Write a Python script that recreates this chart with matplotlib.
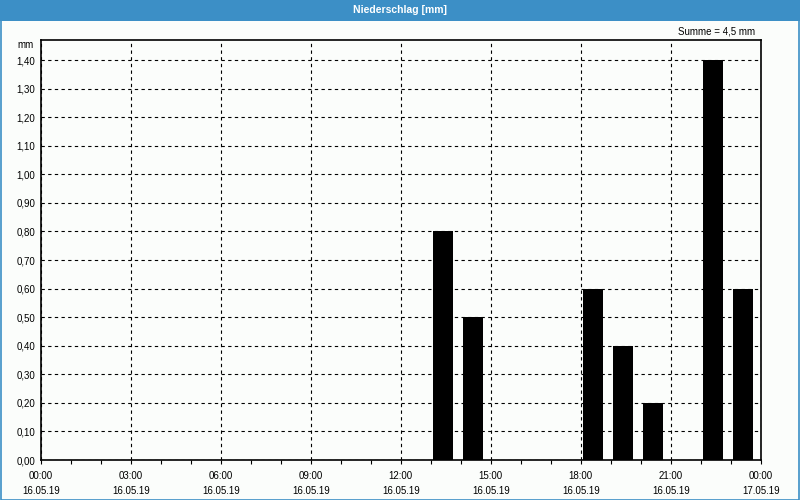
import matplotlib
matplotlib.use("Agg")
import matplotlib.pyplot as plt
from matplotlib.patches import Rectangle
from matplotlib.ticker import MultipleLocator

plt.rcParams['font.family'] = ['Liberation Sans', 'DejaVu Sans']

# hourly precipitation, 16.05.19
hours = [13, 14, 18, 19, 20, 22, 23]
values = [0.8, 0.5, 0.6, 0.4, 0.2, 1.4, 0.6]

tick_hours = [0, 3, 6, 9, 12, 15, 18, 21, 24]
tick_times = ["00:00", "03:00", "06:00", "09:00", "12:00", "15:00", "18:00", "21:00", "00:00"]
tick_dates = ["16.05.19"] * 8 + ["17.05.19"]
y_ticks = [i / 10 for i in range(15)]

blue = '#3c8fc6'

fig = plt.figure(figsize=(8, 5), dpi=100, facecolor='#fbfdfb')
ax = fig.add_axes([40.7 / 800, 40 / 500, 720 / 800, 420 / 500])
ax.set_facecolor('#fbfdfb')

# title bar and outer frame
fig.patches.append(Rectangle((0, 1 - 20.5 / 500), 1, 20.5 / 500, transform=fig.transFigure,
                             facecolor=blue, edgecolor='none', zorder=0))
fig.patches.append(Rectangle((0.5 / 800, 0.5 / 500), 798.5 / 800, 498.5 / 500, transform=fig.transFigure,
                             facecolor='none', edgecolor=blue, linewidth=1.2, zorder=5))
fig.text(0.5, 1 - 10 / 500, "Niederschlag [mm]", color='white', fontsize=7.5, fontweight='bold',
         ha='center', va='center')

ax.bar([h + 0.085 for h in hours], values, width=0.67, align='edge', color='black', zorder=1)

ax.set_xlim(0, 24)
ax.set_ylim(0, 1.47)
ax.set_xticks(tick_hours)
ax.set_xticklabels([t + "\n" + d for t, d in zip(tick_times, tick_dates)], fontsize=7,
                   linespacing=1.55)
ax.xaxis.set_minor_locator(MultipleLocator(1))
ax.set_yticks(y_ticks)
ax.set_yticklabels([f"{v:.2f}".replace('.', ',') for v in y_ticks], fontsize=7)

ax.tick_params(axis='x', which='both', length=3, width=0.8, pad=5, colors='black')
ax.tick_params(axis='y', length=0, pad=4)
ax.grid(True, which='major', color='black', linestyle=(0, (3, 3)), linewidth=0.8)
ax.set_axisbelow(True)
for s in ax.spines.values():
    s.set_linewidth(1.2)

fig.text(34 / 800, 1 - 45 / 500, "mm", fontsize=7, ha='right', va='center')
fig.text(755 / 800, 1 - 31 / 500, "Summe = 4,5 mm", fontsize=7, ha='right', va='center')

fig.savefig("out.png", dpi=100, facecolor=fig.get_facecolor())
